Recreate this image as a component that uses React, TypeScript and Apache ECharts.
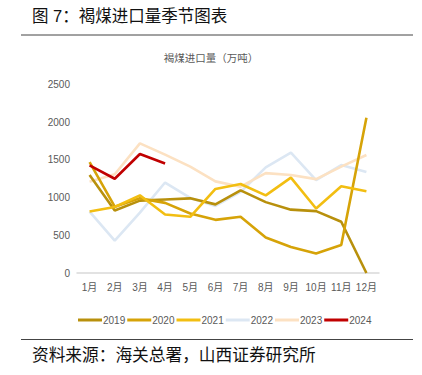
import React, { useEffect, useRef } from "react";
import * as echarts from "echarts";

const months = ["1月", "2月", "3月", "4月", "5月", "6月", "7月", "8月", "9月", "10月", "11月", "12月"];
const years = ["2019", "2020", "2021", "2022", "2023", "2024"];
const v2019 = [1300, 830, 960, 975, 990, 910, 1095, 940, 840, 820, 680, 0];
const v2020 = [1470, 880, 990, 930, 790, 705, 745, 470, 345, 260, 370, 2060];
const v2021 = [815, 875, 1030, 775, 745, 1115, 1180, 1030, 1265, 855, 1150, 1085];
const v2022 = [815, 430, 800, 1200, 995, 890, 1075, 1400, 1595, 1232, 1432, 1338];
const v2023 = [1210, 1310, 1720, 1570, 1410, 1215, 1145, 1325, 1300, 1245, 1410, 1565];
const v2024 = [1428, 1250, 1578, 1452];
const seriesValues = [v2019, v2020, v2021, v2022, v2023, v2024];
const colors = ["#B8900C", "#D6A308", "#F2BE12", "#DCE7F3", "#FCE1C2", "#C00000"];

const cjk = "'Liberation Sans', 'Noto Sans CJK SC', sans-serif";

export default function App() {
  const ref = useRef<HTMLDivElement>(null);
  useEffect(() => {
    if (!ref.current) return;
    const chart = echarts.init(ref.current, undefined, { renderer: "svg" });
    chart.setOption({
      animation: false,
      backgroundColor: "#ffffff",
      title: {
        text: "褐煤进口量（万吨）",
        left: "center",
        top: 48,
        textStyle: { fontSize: 10.5, color: "#595959", fontWeight: "normal", fontFamily: cjk },
      },
      graphic: [
        {
          type: "text",
          left: 32,
          top: 8,
          style: { text: "图 7：褐煤进口量季节图表", fontSize: 16.5, fill: "#111", fontFamily: cjk },
        },
        {
          type: "line",
          shape: { x1: 21, y1: 35, x2: 413, y2: 35 },
          style: { stroke: "#444", lineWidth: 1 },
        },
        {
          type: "line",
          shape: { x1: 21, y1: 339.5, x2: 413, y2: 339.5 },
          style: { stroke: "#444", lineWidth: 1 },
        },
        {
          type: "text",
          left: 32,
          top: 347,
          style: { text: "资料来源：海关总署，山西证券研究所", fontSize: 16.7, fill: "#111", fontFamily: cjk },
        },
      ],
      legend: {
        data: years,
        top: 310,
        left: 73,
        icon: "rect",
        itemWidth: 24,
        itemHeight: 3,
        itemGap: 2,
        textStyle: { fontSize: 10, color: "#595959", fontFamily: cjk, padding: [0, 0, 0, -4] },
      },
      grid: { left: 77, top: 84.5, width: 302, height: 188.5, containLabel: false },
      xAxis: {
        type: "category",
        data: months,
        boundaryGap: true,
        axisLine: { lineStyle: { color: "#D9D9D9", width: 1.5 } },
        axisTick: { show: false },
        axisLabel: { fontSize: 10, color: "#595959", margin: 9, fontFamily: cjk, interval: 0 },
      },
      yAxis: {
        type: "value",
        min: 0,
        max: 2500,
        interval: 500,
        axisLine: { show: false },
        axisTick: { show: false },
        splitLine: { show: false },
        axisLabel: {
          fontSize: 10,
          color: "#595959",
          margin: 7,
          fontFamily: cjk,
          formatter: (v: number) => String(v),
        },
      },
      series: years.map((y, i) => ({
        name: y,
        type: "line",
        data: seriesValues[i],
        symbol: "none",
        color: colors[i],
        lineStyle: { width: 2.6, color: colors[i] },
        z: i === 5 ? 10 : 3 + (i === 3 || i === 4 ? -1 : 0),
      })),
    });
    return () => chart.dispose();
  }, []);
  return <div ref={ref} style={{ position: "fixed", left: 0, top: 0, width: 422, height: 375 }} />;
}
